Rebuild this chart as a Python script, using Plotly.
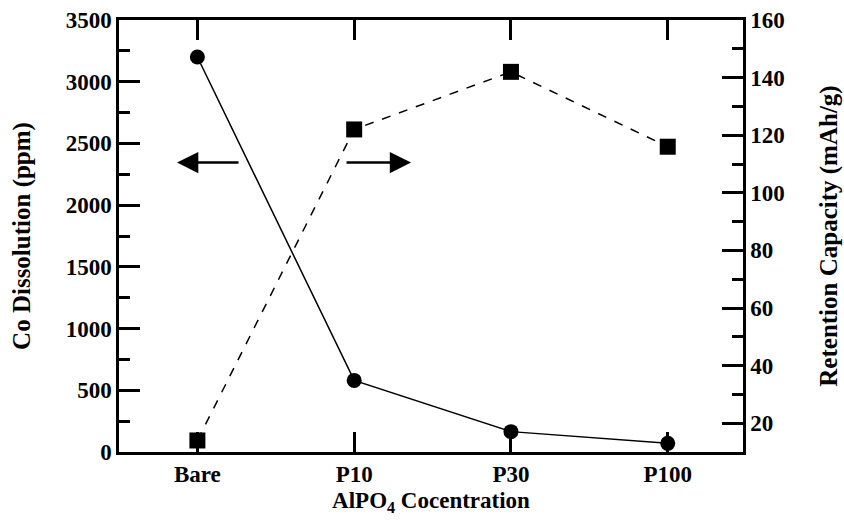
import plotly.graph_objects as go

categories = ["Bare", "P10", "P30", "P100"]
co_dissolution = [3200, 580, 165, 70]
retention_capacity = [14, 122, 142, 116]
left_ticks = [0, 500, 1000, 1500, 2000, 2500, 3000, 3500]
right_ticks = [20, 40, 60, 80, 100, 120, 140, 160]

FONT = "Liberation Serif"
x_idx = list(range(len(categories)))

fig = go.Figure()
fig.add_trace(go.Scatter(
    x=x_idx, y=retention_capacity, yaxis="y2", mode="lines+markers",
    line=dict(color="black", width=1.5, dash="dash"),
    marker=dict(symbol="square", size=16, color="black"),
    showlegend=False, cliponaxis=False))
fig.add_trace(go.Scatter(
    x=x_idx, y=co_dissolution, mode="lines+markers",
    line=dict(color="black", width=1.5),
    marker=dict(symbol="circle", size=15, color="black"),
    showlegend=False, cliponaxis=False))

tickfont = dict(family=FONT, size=23, color="black")
ytitlefont = dict(family=FONT, size=25, color="black")
xtitlefont = dict(family=FONT, size=23, color="black")

fig.update_layout(
    width=844, height=522,
    margin=dict(l=119, r=101, t=20, b=70, autoexpand=False),
    paper_bgcolor="white", plot_bgcolor="white",
    font=dict(family=FONT, color="black"),
    xaxis=dict(
        tickmode="array", tickvals=x_idx, ticktext=["<b>%s</b>" % c for c in categories],
        range=[-0.5, 3.48], showgrid=False, zeroline=False, automargin=False,
        showline=True, linecolor="black", linewidth=2.5, mirror="ticks",
        ticks="inside", ticklen=20, tickwidth=2.5, tickcolor="black",
        tickfont=tickfont,
        title=dict(text="<b>AlPO<sub>4</sub> Cocentration</b>", font=xtitlefont, standoff=6),
    ),
    yaxis=dict(
        range=[0, 3500], tickvals=left_ticks, ticktext=["<b>%d</b>" % v for v in left_ticks],
        showgrid=False, zeroline=False, automargin=False,
        showline=True, linecolor="black", linewidth=2.5,
        ticks="inside", ticklen=21, tickwidth=2.5, tickcolor="black",
        minor=dict(dtick=250, ticks="inside", ticklen=11, tickwidth=2.5, tickcolor="black", showgrid=False),
        tickfont=tickfont,
        title=dict(text="<b>Co Dissolution (ppm)</b>", font=ytitlefont, standoff=28),
    ),
    yaxis2=dict(
        range=[10, 160], tickvals=right_ticks, ticktext=["<b>%d</b>" % v for v in right_ticks],
        overlaying="y", side="right", showgrid=False, zeroline=False, automargin=False,
        showline=True, linecolor="black", linewidth=2.5,
        ticks="inside", ticklen=21, tickwidth=2.5, tickcolor="black",
        minor=dict(dtick=10, tick0=10, ticks="inside", ticklen=11, tickwidth=2.5, tickcolor="black", showgrid=False),
        tickfont=tickfont,
        title=dict(text="<b>Retention Capacity (mAh/g)</b>", font=ytitlefont, standoff=36),
    ),
)

# direction arrows
fig.add_annotation(xref="paper", yref="paper", x=0.093, y=0.67, ax=63, ay=0,
                   showarrow=True, arrowhead=2, arrowsize=1.7, arrowwidth=2.5, arrowcolor="black", text="")
fig.add_annotation(xref="paper", yref="paper", x=0.468, y=0.67, ax=-66, ay=0,
                   showarrow=True, arrowhead=2, arrowsize=1.7, arrowwidth=2.5, arrowcolor="black", text="")

fig.write_html("out.html")
